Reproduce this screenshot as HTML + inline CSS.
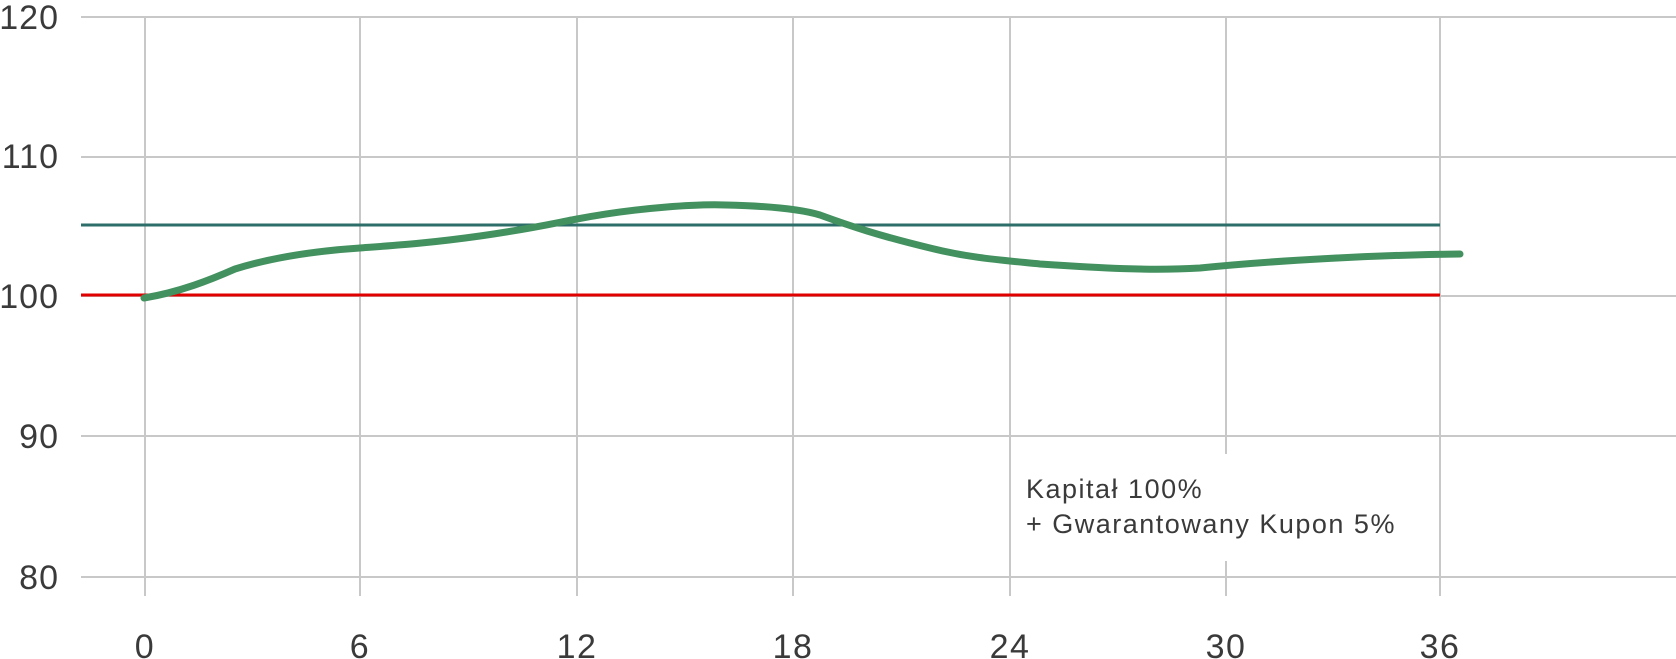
<!DOCTYPE html>
<html><head><meta charset="utf-8"><style>body{margin:0;background:#fff}svg{display:block}</style></head>
<body>
<svg width="1676" height="659" viewBox="0 0 1676 659" xmlns="http://www.w3.org/2000/svg" font-family="'Liberation Sans', sans-serif">
<g stroke="#c8c8c8" stroke-width="2">
<line x1="81" y1="17" x2="1676" y2="17"/>
<line x1="81" y1="157" x2="1676" y2="157"/>
<line x1="81" y1="296" x2="1676" y2="296"/>
<line x1="81" y1="436" x2="1676" y2="436"/>
<line x1="81" y1="577" x2="1676" y2="577"/>
<line x1="145" y1="17" x2="145" y2="596"/>
<line x1="360" y1="17" x2="360" y2="596"/>
<line x1="577" y1="17" x2="577" y2="596"/>
<line x1="793" y1="17" x2="793" y2="596"/>
<line x1="1010" y1="17" x2="1010" y2="596"/>
<line x1="1226" y1="17" x2="1226" y2="454"/>
<line x1="1226" y1="561" x2="1226" y2="596"/>
<line x1="1440" y1="17" x2="1440" y2="596"/>
</g>
<line x1="81" y1="225" x2="1440" y2="225" stroke="#2e6e6a" stroke-width="3"/>
<line x1="81" y1="295" x2="1440" y2="295" stroke="#e00000" stroke-width="3"/>
<path d="M144,298 C180,292 210,280 235,269 C280,255 330,250 360,248 C400,245 430,243 480,236 C530,229 560,222 577,219 C640,207 700,204 726,205 C770,206 800,209 820,215 C850,226 880,236 930,248 C970,258 1000,260 1040,264 C1100,268 1150,271 1200,268 C1280,260 1380,255 1460,254" fill="none" stroke="#43915f" stroke-width="7" stroke-linecap="round" stroke-linejoin="round"/>
<g fill="#3a3a3a" font-size="34" text-anchor="end" letter-spacing="1">
<text x="59" y="29">120</text>
<text x="59" y="168">110</text>
<text x="59" y="308">100</text>
<text x="59" y="448">90</text>
<text x="59" y="589">80</text>
</g>
<g fill="#3a3a3a" font-size="34" text-anchor="middle" letter-spacing="1.5">
<text x="145" y="658">0</text>
<text x="360" y="658">6</text>
<text x="577" y="658">12</text>
<text x="793" y="658">18</text>
<text x="1010" y="658">24</text>
<text x="1226" y="658">30</text>
<text x="1440" y="658">36</text>
</g>
<g fill="#3a3a3a" font-size="27" letter-spacing="1.5">
<text x="1026" y="498">Kapitał 100%</text>
<text x="1026" y="533">+ Gwarantowany Kupon 5%</text>
</g>
</svg>
</body></html>
